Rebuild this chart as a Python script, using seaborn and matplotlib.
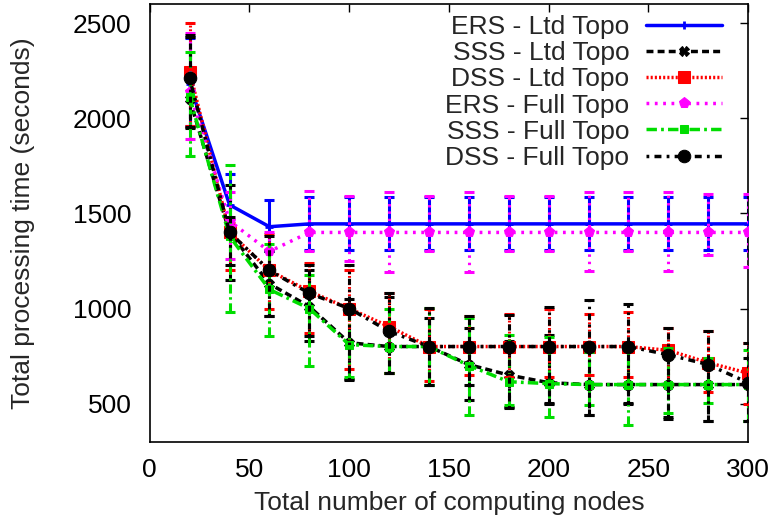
import matplotlib
matplotlib.use("Agg")
import matplotlib.pyplot as plt
import seaborn as sns
import pandas as pd
import numpy as np

# ---------------- data ----------------
nodes = [20, 40, 60, 80, 100, 120, 140, 160, 180, 200, 220, 240, 260, 280, 300]

labels = ["ERS - Ltd Topo", "SSS - Ltd Topo", "DSS - Ltd Topo",
          "ERS - Full Topo", "SSS - Full Topo", "DSS - Full Topo"]

ers_ltd = [2180, 1545, 1430, 1445, 1445, 1445, 1445, 1445, 1445, 1445, 1445, 1445, 1445, 1445, 1445]
ers_ltd_lo = [1960, 1390, 1300, 1305, 1305, 1305, 1305, 1305, 1305, 1305, 1305, 1305, 1305, 1305, 1305]
ers_ltd_hi = [2420, 1705, 1570, 1585, 1585, 1585, 1585, 1585, 1585, 1585, 1585, 1585, 1585, 1585, 1585]

sss_ltd = [2100, 1400, 1130, 1010, 820, 800, 800, 705, 650, 610, 600, 600, 600, 600, 600]
sss_ltd_lo = [1950, 1150, 960, 830, 630, 660, 600, 520, 480, 500, 440, 500, 420, 410, 410]
sss_ltd_hi = [2430, 1650, 1300, 1200, 1050, 1060, 950, 900, 830, 860, 780, 800, 800, 700, 740]

dss_ltd = [2245, 1400, 1200, 1090, 1000, 905, 800, 800, 800, 800, 800, 800, 780, 715, 660]
dss_ltd_lo = [1960, 1200, 1000, 870, 680, 660, 620, 650, 640, 640, 650, 640, 600, 560, 500]
dss_ltd_hi = [2500, 1450, 1390, 1240, 1200, 1080, 1000, 960, 970, 1000, 970, 980, 900, 880, 820]

ers_full = [2140, 1460, 1300, 1400, 1400, 1400, 1400, 1400, 1400, 1400, 1400, 1400, 1400, 1400, 1400]
ers_full_lo = [1890, 1260, 1200, 1300, 1250, 1190, 1300, 1190, 1300, 1300, 1195, 1300, 1195, 1280, 1220]
ers_full_hi = [2450, 1610, 1400, 1620, 1590, 1615, 1590, 1615, 1590, 1590, 1615, 1615, 1615, 1600, 1600]

sss_full = [2110, 1380, 1100, 1000, 810, 800, 800, 700, 615, 605, 600, 600, 600, 600, 600]
sss_full_lo = [1800, 980, 857, 700, 640, 663, 600, 442, 495, 427, 495, 390, 453, 505, 407]
sss_full_hi = [2350, 1755, 1340, 1177, 1010, 1000, 1004, 951, 860, 850, 770, 800, 790, 740, 780]

dss_full = [2210, 1400, 1200, 1080, 1000, 880, 800, 800, 800, 800, 800, 800, 757, 705, 610]
dss_full_lo = [1955, 1230, 963, 853, 626, 663, 600, 600, 479, 505, 442, 505, 427, 407, 407]
dss_full_hi = [2440, 1480, 1380, 1230, 1230, 1081, 1004, 958, 967, 1010, 1046, 1025, 897, 880, 820]

means = [ers_ltd, sss_ltd, dss_ltd, ers_full, sss_full, dss_full]
los = [ers_ltd_lo, sss_ltd_lo, dss_ltd_lo, ers_full_lo, sss_full_lo, dss_full_lo]
his = [ers_ltd_hi, sss_ltd_hi, dss_ltd_hi, ers_full_hi, sss_full_hi, dss_full_hi]

# ---------------- styles ----------------
colors = ["#0000ff", "#000000", "#ff0000", "#ff00ff", "#00dd00", "#000000"]
dashes = [(None, None), (2.0, 1.2), (0.6, 0.6), (0.8, 1.6), (3.0, 1.2, 0.8, 1.2), (0.8, 1.5, 2.0, 1.5)]
markers = ["+", "X", "s", "p", "s", "o"]
msizes = [6, 7, 9, 8, 6, 9]

FS = 19

sns.set_theme(style="white")
plt.rcParams["font.family"] = ["Liberation Sans", "DejaVu Sans"]
plt.rcParams["font.size"] = FS

fig = plt.figure(figsize=(7.76, 5.27), dpi=100)
ax = fig.add_axes([0.193, 0.162, 0.771, 0.830])

for i, lab in enumerate(labels):
    df = pd.DataFrame({"nodes": nodes, "time": means[i]})
    m = np.array(means[i])
    lo = m - np.array(los[i])
    hi = np.array(his[i]) - m
    eb = ax.errorbar(nodes, means[i], yerr=[lo, hi], fmt="none",
                     ecolor=colors[i], elinewidth=2.2, capsize=3.5, capthick=2.2,
                     zorder=2 + i)
    if dashes[i][0] is not None:
        for lc in eb[2]:
            lc.set_linestyle((0, dashes[i]))
    line_kw = dict(color=colors[i], linewidth=2.5, marker=markers[i],
                   markersize=msizes[i], markeredgecolor=colors[i],
                   markerfacecolor=colors[i], label=lab, zorder=3 + i)
    if markers[i] == "+":
        line_kw["markeredgewidth"] = 2
    sns.lineplot(data=df, x="nodes", y="time", ax=ax, **line_kw)
    ln = ax.get_lines()[-1]
    if dashes[i][0] is not None:
        ln.set_dashes(dashes[i])

ax.set_xlim(0, 300)
ax.set_ylim(300, 2600)
ax.set_xticks([0, 50, 100, 150, 200, 250, 300])
ax.set_yticks([500, 1000, 1500, 2000, 2500])
ax.tick_params(direction="in", length=6, width=1, top=True, right=True,
               labelsize=FS, colors="black")
ax.tick_params(axis="y", pad=13)
ax.tick_params(axis="x", pad=12)
for s in ax.spines.values():
    s.set_color("black")
    s.set_linewidth(1.2)

ax.set_xlabel("Total number of computing nodes", fontsize=FS)
ax.set_ylabel("Total processing time (seconds)", fontsize=FS)
ax.xaxis.set_label_coords(0.5, -0.112)
ax.yaxis.set_label_coords(-0.192, 0.5)

leg = ax.legend(loc="upper right", bbox_to_anchor=(0.988, 1.017), frameon=False,
                markerfirst=False, handlelength=2.9, handletextpad=0.63,
                labelspacing=0.08, borderpad=0.2, fontsize=FS)

fig.savefig("out.png", dpi=100, facecolor="white")
